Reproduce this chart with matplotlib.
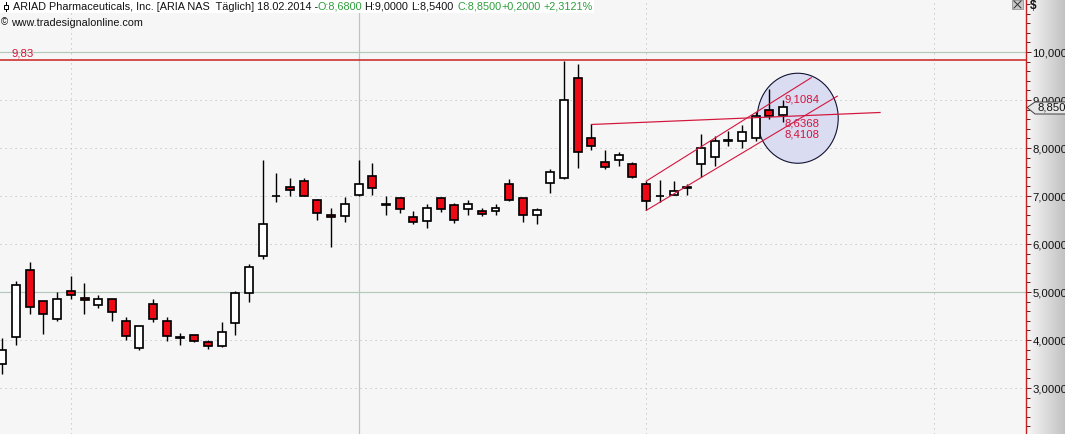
import matplotlib
matplotlib.use('Agg')
import matplotlib.pyplot as plt
import numpy as np
from matplotlib.patches import Ellipse, Polygon
from matplotlib.ticker import FixedLocator, FuncFormatter, MultipleLocator

plt.rcParams['font.family'] = ['Liberation Sans', 'DejaVu Sans']

opens = [3.49, 4.06, 5.45, 4.81, 4.43, 5.02, 4.87, 4.72, 4.85, 4.39,
         3.84, 4.74, 4.39, 4.07, 4.10, 3.95, 3.87, 4.35, 4.97, 5.76,
         6.99, 7.18, 7.31, 6.91, 6.60, 6.58, 7.03, 7.41, 6.83, 6.95,
         6.56, 6.47, 6.95, 6.81, 6.72, 6.68, 6.68, 7.24, 6.95, 6.60,
         7.28, 7.37, 9.45, 8.20, 7.70, 7.76, 7.66, 7.26, 7.01, 7.02,
         7.18, 7.66, 7.81, 8.16, 8.14, 8.20, 8.80, 8.68]
closes = [3.79, 5.14, 4.68, 4.54, 4.85, 4.93, 4.83, 4.85, 4.58, 4.08,
          4.29, 4.43, 4.08, 4.05, 3.97, 3.87, 4.16, 4.97, 5.52, 6.41,
          7.00, 7.12, 6.99, 6.64, 6.56, 6.83, 7.26, 7.16, 6.82, 6.72,
          6.45, 6.76, 6.72, 6.51, 6.83, 6.62, 6.74, 6.91, 6.60, 6.70,
          7.51, 8.99, 7.91, 8.04, 7.60, 7.85, 7.39, 6.89, 6.99, 7.10,
          7.16, 7.99, 8.14, 8.14, 8.33, 8.66, 8.66, 8.85]
highs = [4.04, 5.22, 5.62, 4.81, 5.00, 5.33, 5.18, 4.93, 4.85, 4.47,
         4.30, 4.85, 4.47, 4.14, 4.10, 4.01, 4.37, 5.03, 5.58, 7.75,
         7.47, 7.37, 7.37, 6.93, 6.74, 6.97, 7.74, 7.68, 6.99, 6.97,
         6.68, 6.83, 6.97, 6.85, 6.91, 6.74, 6.83, 7.35, 6.95, 6.74,
         7.56, 9.82, 9.74, 8.49, 7.95, 7.91, 7.70, 7.31, 7.33, 7.31,
         7.26, 8.29, 8.24, 8.35, 8.47, 8.74, 9.22, 9.00]
lows = [3.29, 3.90, 4.55, 4.13, 4.40, 4.86, 4.55, 4.67, 4.40, 4.01,
        3.80, 4.38, 3.97, 3.90, 3.95, 3.82, 3.85, 4.11, 4.80, 5.68,
        6.87, 7.01, 6.99, 6.51, 5.93, 6.45, 6.99, 7.03, 6.60, 6.64,
        6.41, 6.33, 6.66, 6.43, 6.60, 6.58, 6.60, 6.89, 6.45, 6.41,
        7.06, 7.35, 7.58, 7.95, 7.56, 7.62, 7.37, 6.70, 6.87, 7.02,
        7.02, 7.39, 7.62, 8.05, 7.99, 8.15, 8.60, 8.54]

price_ticks = [3, 4, 5, 6, 7, 8, 9, 10]
resistance = 9.83
upper_channel_x = [47, 59.05]
upper_channel_y = [7.31, 9.465]
lower_channel_x = [47, 60.95]
lower_channel_y = [6.70, 9.08]
trend_x = [43, 64.07]
trend_y = [8.49, 8.74]
circle_labels = ['9,1084', '8,6368', '8,4108']
circle_label_prices = [9.0, 8.52, 8.29]
last_price = '8,850'

BG = '#F6F6F6'
RED = '#C81E1E'
CRIMSON = '#D4143C'
GREEN = '#2E9E3C'
GRID = '#BEC2BE'
SOLID = '#B4C8BC'
STEP = 13.7
X0 = 2.3
PX = 0.72

fig = plt.figure(figsize=(10.65, 4.34), dpi=100, facecolor=BG)

# right hand panel with the gradient behind the price scale
bg = fig.add_axes([0, 0, 1, 1], zorder=0)
bg.axis('off')
grad = np.linspace(0.97, 0.76, 64).reshape(1, -1)
bg.imshow(grad, extent=[1026, 1065, 434, 0], cmap='gray', vmin=0, vmax=1, aspect='auto')
bg.set_xlim(0, 1065)
bg.set_ylim(434, 0)

ax = fig.add_axes([0, 0, 1026 / 1065, 1], zorder=1)
ax.patch.set_alpha(0)
ax.set_xlim(-X0 / STEP, (1026 - X0) / STEP)
ax.set_ylim((532 - 434) / 48, 532 / 48)

for s in ['top', 'left', 'bottom']:
    ax.spines[s].set_visible(False)
ax.spines['right'].set_color(RED)
ax.spines['right'].set_linewidth(1.4 * PX)

ax.xaxis.set_visible(False)
ax.yaxis.tick_right()
ax.yaxis.set_major_locator(FixedLocator(price_ticks))
ax.yaxis.set_minor_locator(MultipleLocator(0.2))
ax.yaxis.set_major_formatter(FuncFormatter(lambda v, pos: f'{v:.4f}'.replace('.', ',')))
ax.tick_params(axis='y', which='major', length=5 * PX, width=PX, color='#702020', labelsize=8.2,
               pad=1.5 * PX, labelcolor='#111111')
ax.tick_params(axis='y', which='minor', length=4 * PX, width=PX, color='#702020')
ax.grid(False)

# grid lines
for p in [3, 4, 6, 7, 8, 9]:
    ax.axhline(p, color=GRID, lw=PX, ls=(0, (1.2, 3.8)), zorder=1)
for i in [5, 47, 68]:
    ax.axvline(i - 0.01, color=GRID, lw=PX, ls=(0, (1.2, 3.8)), zorder=1)
for p in [5, 10]:
    ax.axhline(p, color=SOLID, lw=1.2 * PX, zorder=1)
ax.axvline(26, color=SOLID, lw=1.2 * PX, zorder=1)
ax.axhline(resistance, color=RED, lw=1.5 * PX, zorder=2)

# highlighted circle
ax.add_patch(Ellipse((58.06, 8.62), 81 / STEP, 90 / 48, facecolor='#DADCF2', edgecolor='#101030',
                     lw=1.1 * PX, zorder=2))

# candles
idx = np.arange(len(opens))
bottoms = [min(o, c) for o, c in zip(opens, closes)]
heights = [abs(c - o) for o, c in zip(opens, closes)]
colors = ['white' if c > o else '#EE0A14' for o, c in zip(opens, closes)]
ax.vlines(idx, lows, highs, color='black', lw=1.4 * PX, zorder=3)
ax.bar(idx, heights, 8 / STEP, bottom=bottoms, color=colors, edgecolor='black', lw=1.7 * PX, zorder=4)

# trend lines
ax.plot(upper_channel_x, upper_channel_y, color=CRIMSON, lw=1.1 * PX, zorder=5)
ax.plot(lower_channel_x, lower_channel_y, color=CRIMSON, lw=1.1 * PX, zorder=5)
ax.plot(trend_x, trend_y, color=CRIMSON, lw=1.2 * PX, zorder=5)

for lab, p in zip(circle_labels, circle_label_prices):
    ax.text(57.1, p, lab, color=CRIMSON, fontsize=8.2, va='center', ha='left', zorder=6)

# overlay in pixels for header, price tag and close button
ov = fig.add_axes([0, 0, 1, 1], zorder=2)
ov.patch.set_alpha(0)
ov.set_xlim(0, 1065)
ov.set_ylim(434, 0)
ov.axis('off')

ov.add_patch(plt.Rectangle((0, 0), 594, 13, facecolor='white', edgecolor='none'))
ov.plot([5.5, 5.5], [2, 11], color='black', lw=PX)
ov.add_patch(plt.Rectangle((3.5, 4.5), 4, 4, facecolor='white', edgecolor='black', lw=PX, zorder=3))

header = [(13, 'ARIAD Pharmaceuticals, Inc. [ARIA NAS  Täglich] 18.02.2014 -', '#111111', 7.8),
          (317.5, 'O:8,6800', GREEN, 7.8),
          (364, 'H:9,0000', '#111111', 7.8),
          (411, 'L:8,5400', '#111111', 7.8),
          (457, 'C:8,8500', GREEN, 7.8),
          (502, '+0,2000', GREEN, 7.8),
          (543.5, '+2,3121%', GREEN, 7.8)]
for x, s, c, fs in header:
    ov.text(x, 6.5, s, color=c, fontsize=fs, va='center', ha='left')

ov.text(1, 22, '©', color='#111111', fontsize=7, va='center', ha='left')
ov.text(11.5, 22.5, 'www.tradesignalonline.com', color='#111111', fontsize=7.75, va='center', ha='left')
ov.text(11, 54, '9,83', color=CRIMSON, fontsize=8.2, va='center', ha='left')
ov.text(1030, 6, '$', color='#111111', fontsize=8.5, fontweight='bold', va='center', ha='left')

# close button
ov.add_patch(plt.Rectangle((1012, 0), 11, 9, facecolor='#C8C8C8', edgecolor='#A0A0A0', lw=PX))
ov.plot([1014, 1021], [1, 8], color='#333333', lw=PX)
ov.plot([1014, 1021], [8, 1], color='#333333', lw=PX)

# price tag
ov.add_patch(Polygon([(1027, 107.5), (1035, 102), (1066, 102), (1066, 114), (1035, 114)],
                     closed=True, facecolor='#E6E6E6', edgecolor='#444444', lw=PX, zorder=4))
ov.text(1038, 108, last_price, color='#111111', fontsize=8.2, va='center', ha='left', zorder=5)

fig.savefig('out.png', dpi=100, facecolor=fig.get_facecolor())
